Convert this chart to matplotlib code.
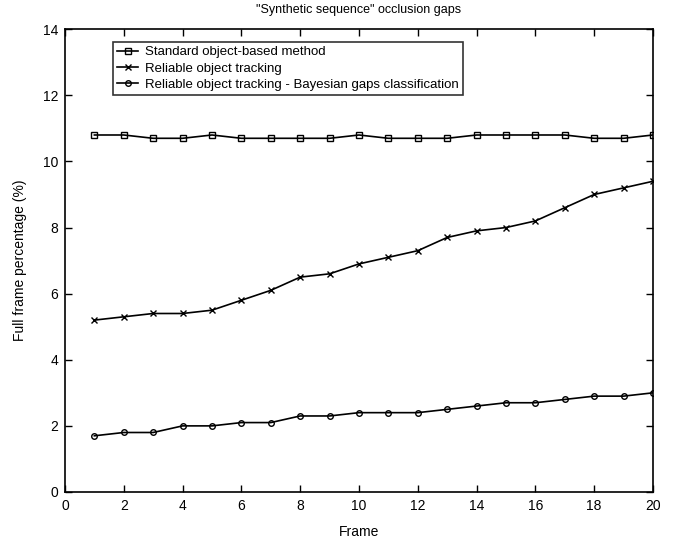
import matplotlib
matplotlib.use("Agg")
import matplotlib.pyplot as plt

plt.rcParams['font.family'] = ['Liberation Sans', 'DejaVu Sans']
plt.rcParams['font.size'] = 9.5

frames = list(range(1, 21))
standard = [10.8, 10.8, 10.7, 10.7, 10.8, 10.7, 10.7, 10.7, 10.7, 10.8,
            10.7, 10.7, 10.7, 10.8, 10.8, 10.8, 10.8, 10.7, 10.7, 10.8]
reliable = [5.2, 5.3, 5.4, 5.4, 5.5, 5.8, 6.1, 6.5, 6.6, 6.9,
            7.1, 7.3, 7.7, 7.9, 8.0, 8.2, 8.6, 9.0, 9.2, 9.4]
bayesian = [1.7, 1.8, 1.8, 2.0, 2.0, 2.1, 2.1, 2.3, 2.3, 2.4,
            2.4, 2.4, 2.5, 2.6, 2.7, 2.7, 2.8, 2.9, 2.9, 3.0]
labels = ["Standard object-based method",
          "Reliable object tracking",
          "Reliable object tracking - Bayesian gaps classification"]

fig = plt.figure(figsize=(6.74, 5.4), dpi=100)
ax = fig.add_axes([0.0964, 0.0889, 0.8724, 0.857])

ax.plot(frames, standard, color='black', lw=1.2, marker='s', ms=4,
        mfc='none', mew=1, label=labels[0])
ax.plot(frames, reliable, color='black', lw=1.2, marker='x', ms=5,
        mew=1, label=labels[1])
ax.plot(frames, bayesian, color='black', lw=1.2, marker='o', ms=4,
        mfc='none', mew=1, label=labels[2])

ax.set_xlim(0, 20)
ax.set_ylim(0, 14)
ax.set_xticks(range(0, 21, 2))
ax.set_yticks(range(0, 15, 2))
ax.tick_params(direction='in', top=True, right=True, length=5, width=1,
               pad=5, labelsize=10)
for s in ax.spines.values():
    s.set_linewidth(1.2)

ax.set_xlabel("Frame", labelpad=9, fontsize=10)
ax.set_ylabel("Full frame percentage (%)", labelpad=11, fontsize=10)
ax.set_title('"Synthetic sequence" occlusion gaps', fontsize=9, pad=12)

leg = ax.legend(loc='upper left', bbox_to_anchor=(0.082, 0.972), frameon=True,
                fancybox=False, edgecolor='black', handlelength=1.6,
                borderpad=0.3, labelspacing=0.3, handletextpad=0.5,
                borderaxespad=0, fontsize=9.5)
leg.get_frame().set_linewidth(1.2)

fig.savefig("out.png", dpi=100)
